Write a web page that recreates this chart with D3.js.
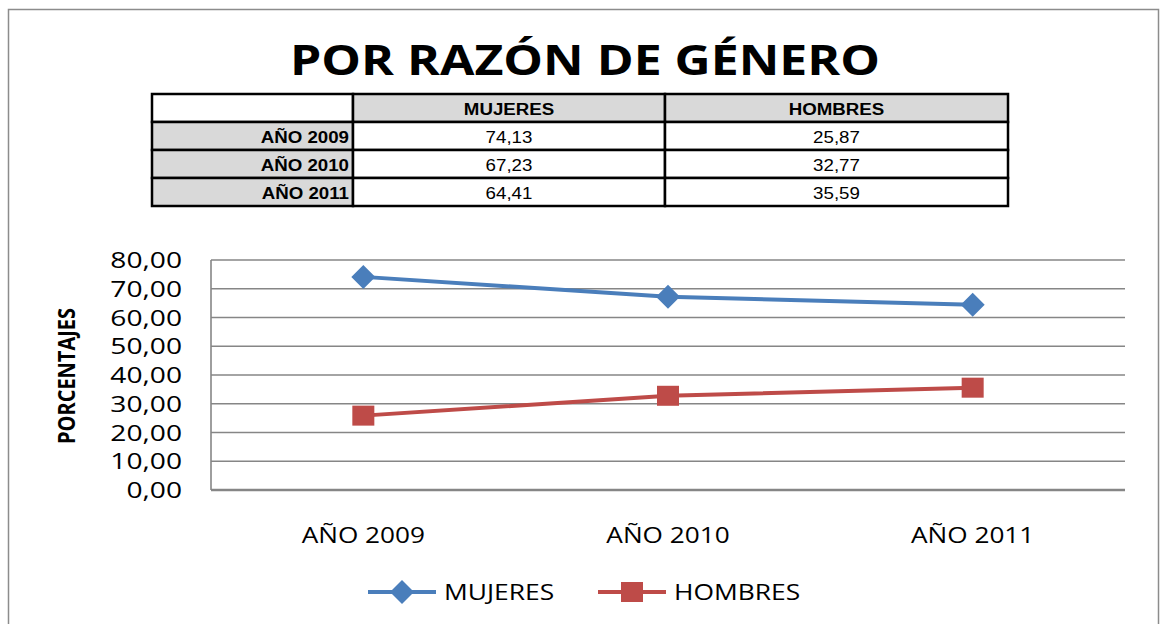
<!DOCTYPE html>
<html>
<head>
<meta charset="utf-8">
<script src="https://cdn.jsdelivr.net/npm/d3@7"></script>
<style>
  body { margin: 0; background: #fff; }
  svg { display: block; }
</style>
</head>
<body>
<div id="viz"></div>
<script>
const years = ['AÑO 2009', 'AÑO 2010', 'AÑO 2011'];
const mujeres = [74.13, 67.23, 64.41];
const hombres = [25.87, 32.77, 35.59];
const yTicks = [0, 10, 20, 30, 40, 50, 60, 70, 80];
const seriesNames = ['MUJERES', 'HOMBRES'];

const fmt = v => d3.format('.2f')(v).replace('.', ',');
const BLUE = '#4a7ebb', RED = '#be4b48', GRID = '#868686';
const SANS = '"Open Sans", Lato, sans-serif';
const ARIAL = '"Liberation Sans", Arial, sans-serif';

const svg = d3.select('#viz').append('svg')
  .attr('width', 1160).attr('height', 624);

// the original picture is a bit stretched sideways, so text gets a horizontal scale
function stretch(sel, px, py, k) {
  return sel.attr('x', 0).attr('y', 0)
    .attr('transform', `translate(${px},${py}) scale(${k},1)`);
}

// outer frame
svg.append('rect')
  .attr('x', 8.5).attr('y', 9.5).attr('width', 1150).attr('height', 640)
  .attr('fill', '#fff').attr('stroke', '#8c8c8c').attr('stroke-width', 1.5);

// title
svg.append('text')
  .attr('x', 290).attr('y', 75)
  .attr('font-family', SANS)
  .attr('font-weight', 'bold').attr('font-size', '41px')
  .attr('textLength', 590).attr('lengthAdjust', 'spacingAndGlyphs')
  .text('POR RAZÓN DE GÉNERO');

// data table
const colX = [152, 353, 665, 1008];
const rowY = [94, 122, 150, 178, 206];
const tbl = svg.append('g')
  .attr('font-family', ARIAL)
  .attr('font-size', '17px');

const cells = [];
cells.push({ r: 0, c: 0, t: '', fill: '#fff' });
seriesNames.forEach((s, i) => cells.push({ r: 0, c: i + 1, t: s, fill: '#d9d9d9', bold: true, anchor: 'middle' }));
years.forEach((yr, i) => {
  cells.push({ r: i + 1, c: 0, t: yr, fill: '#d9d9d9', bold: true, anchor: 'end' });
  cells.push({ r: i + 1, c: 1, t: fmt(mujeres[i]), fill: '#fff', anchor: 'middle' });
  cells.push({ r: i + 1, c: 2, t: fmt(hombres[i]), fill: '#fff', anchor: 'middle' });
});
cells.forEach(d => {
  const x0 = colX[d.c], x1 = colX[d.c + 1], y0 = rowY[d.r], y1 = rowY[d.r + 1];
  tbl.append('rect')
    .attr('x', x0).attr('y', y0).attr('width', x1 - x0).attr('height', y1 - y0)
    .attr('fill', d.fill).attr('stroke', '#000').attr('stroke-width', 2.5);
  if (d.t) {
    const tx = d.anchor === 'end' ? x1 - 4 : (x0 + x1) / 2;
    stretch(tbl.append('text'), tx, (y0 + y1) / 2 + 7, 1.1)
      .attr('text-anchor', d.anchor)
      .attr('font-weight', d.bold ? 'bold' : 'normal')
      .text(d.t);
  }
});

// chart
const L = 211, R = 1125, T = 260, B = 490;
const x = d3.scaleBand().domain(years).range([L, R]);
const y = d3.scaleLinear().domain([0, 80]).range([B, T]);
const cx = d => x(d) + x.bandwidth() / 2;

const g = svg.append('g');
g.selectAll('.grid').data(yTicks).join('line')
  .attr('x1', L).attr('x2', R)
  .attr('y1', d => y(d)).attr('y2', d => y(d))
  .attr('stroke', GRID).attr('stroke-width', d => d === 0 ? 2.5 : 1.6);
g.append('line')
  .attr('x1', L).attr('x2', L).attr('y1', T).attr('y2', B)
  .attr('stroke', GRID).attr('stroke-width', 1.6);

g.selectAll('.ytl').data(yTicks).join('text')
  .each(function (d) { stretch(d3.select(this), 182, y(d) + 8, 1.28); })
  .attr('text-anchor', 'end')
  .attr('font-family', SANS).attr('font-size', '22px')
  .text(d => fmt(d));

g.selectAll('.xtl').data(years).join('text')
  .each(function (d) { stretch(d3.select(this), cx(d), 543, 1.19); })
  .attr('text-anchor', 'middle')
  .attr('font-family', SANS).attr('font-size', '22px')
  .text(d => d);

g.append('text')
  .attr('transform', `translate(75,376) rotate(-90)`)
  .attr('x', -68).attr('y', 0)
  .attr('font-family', SANS)
  .attr('font-weight', 'bold').attr('font-size', '23px')
  .attr('textLength', 136).attr('lengthAdjust', 'spacingAndGlyphs')
  .text('PORCENTAJES');

const line = d3.line().x((d, i) => cx(years[i])).y(d => y(d));

function diamond(sel, px, py) {
  sel.append('path')
    .attr('d', `M${px},${py - 12}L${px + 12},${py}L${px},${py + 12}L${px - 12},${py}Z`)
    .attr('fill', BLUE);
}
function square(sel, px, py) {
  sel.append('rect')
    .attr('x', px - 11).attr('y', py - 10).attr('width', 22).attr('height', 20)
    .attr('fill', RED);
}

g.append('path').datum(mujeres).attr('d', line)
  .attr('fill', 'none').attr('stroke', BLUE).attr('stroke-width', 4);
g.append('path').datum(hombres).attr('d', line)
  .attr('fill', 'none').attr('stroke', RED).attr('stroke-width', 4);
mujeres.forEach((v, i) => diamond(g, cx(years[i]), y(v)));
hombres.forEach((v, i) => square(g, cx(years[i]), y(v)));

// legend
const leg = svg.append('g').attr('font-family', SANS).attr('font-size', '22px');
const legItems = [
  { name: seriesNames[0], x0: 368, color: BLUE, mark: diamond },
  { name: seriesNames[1], x0: 598, color: RED, mark: square }
];
legItems.forEach(d => {
  leg.append('line')
    .attr('x1', d.x0).attr('x2', d.x0 + 68).attr('y1', 592).attr('y2', 592)
    .attr('stroke', d.color).attr('stroke-width', 4);
  d.mark(leg, d.x0 + 34, 592);
  stretch(leg.append('text'), d.x0 + 76, 600, 1.2).text(d.name);
});
</script>
</body>
</html>
